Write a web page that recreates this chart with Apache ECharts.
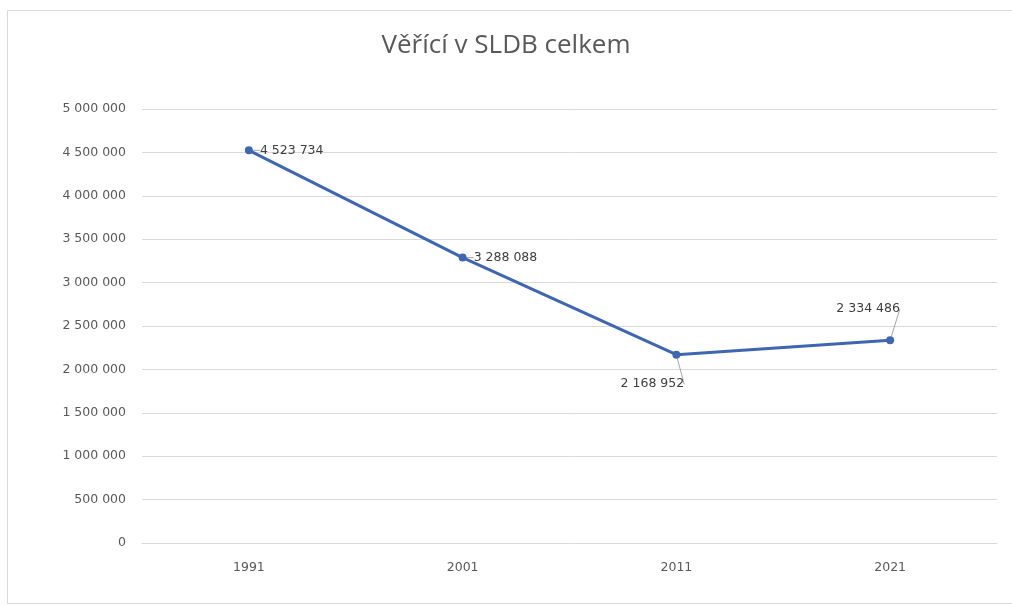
<!DOCTYPE html>
<html><head><meta charset="utf-8">
<script src="https://cdn.jsdelivr.net/npm/echarts@6/dist/echarts.min.js"></script>
<style>html,body{margin:0;padding:0;background:#fff}#c{width:1012px;height:606px}</style>
</head><body><div id="c"></div>
<script>
var title = 'Věřící v SLDB celkem';
var years = ['1991', '2001', '2011', '2021'];
var believers = [4523734, 3288088, 2168952, 2334486];
var yTicks = [0, 500000, 1000000, 1500000, 2000000, 2500000, 3000000, 3500000, 4000000, 4500000, 5000000];

function fmt(v) { return String(v).replace(/\B(?=(\d{3})+(?!\d))/g, ' '); }

var chart = echarts.init(document.getElementById('c'));
var font = 'DejaVu Sans, sans-serif';
chart.setOption({
  backgroundColor: '#fff',
  animation: false,
  graphic: [{ type: 'rect', shape: { x: 7.5, y: 10.5, width: 1010, height: 593 }, style: { fill: 'none', stroke: '#d9d9d9', lineWidth: 1 } }],
  title: { text: title, left: 'center', top: 28, textStyle: { fontFamily: 'Open Sans, sans-serif', fontSize: 26, fontWeight: 'normal', color: '#595959' } },
  grid: { left: 142, right: 15, top: 109, bottom: 63 },
  xAxis: {
    type: 'category', data: years, boundaryGap: true,
    axisLine: { lineStyle: { color: '#d9d9d9' } }, axisTick: { show: false },
    axisLabel: { color: '#595959', fontFamily: font, fontSize: 12.5, margin: 18 }
  },
  yAxis: {
    type: 'value', min: yTicks[0], max: yTicks[yTicks.length - 1], interval: yTicks[1] - yTicks[0],
    axisLine: { show: false }, axisTick: { show: false },
    splitLine: { lineStyle: { color: '#d9d9d9' } },
    axisLabel: { color: '#595959', fontFamily: font, fontSize: 12.5, margin: 16, formatter: fmt }
  },
  series: [{
    type: 'line', data: believers,
    symbol: 'circle', symbolSize: 8,
    lineStyle: { color: '#3F66B3', width: 3 },
    itemStyle: { color: '#3F66B3' },
    label: { show: true, position: 'right', distance: 7, color: '#404040', fontFamily: font, fontSize: 12.5, formatter: function (p) { return fmt(p.value); } },
    labelLine: { show: true, lineStyle: { color: '#a6a6a6', width: 1 } },
    labelLayout: function (p) {
      var cx = p.rect.x + p.rect.width / 2, cy = p.rect.y + p.rect.height / 2, w = p.labelRect.width;
      if (p.dataIndex === 2) return { x: cx - 24 - w / 2, y: cy + 23 };
      if (p.dataIndex === 3) return { x: cx - 22 - w / 2, y: cy - 38 };
      return {};
    }
  }]
});
</script></body></html>
